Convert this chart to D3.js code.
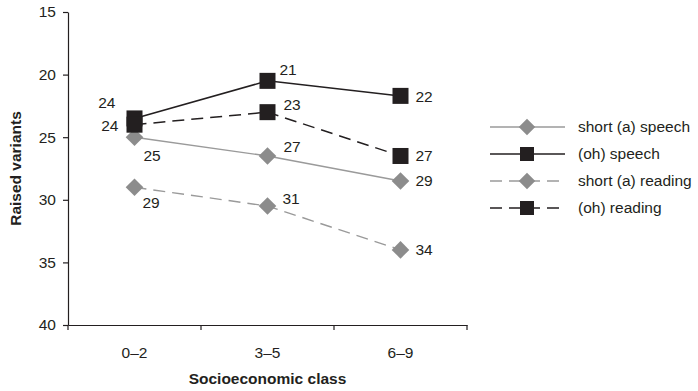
<!DOCTYPE html>
<html>
<head>
<meta charset="utf-8">
<script src="https://cdn.jsdelivr.net/npm/d3@7"></script>
<style>
  html, body { margin: 0; padding: 0; background: #fff; }
  svg { display: block; font-family: "Liberation Sans", Arial, sans-serif; }
</style>
</head>
<body>
<svg id="chart" width="698" height="391"></svg>
<script>
// Socioeconomic class groups along the x axis
const classes = ["0\u20132", "3\u20135", "6\u20139"];

// Mean raised-variant scores per class (lower = more raised)
const shortASpeech  = [25.0, 26.5, 28.5];
const ohSpeech      = [23.5, 20.5, 21.7];
const shortAReading = [29.0, 30.5, 34.0];
const ohReading     = [24.0, 23.0, 26.5];

const yTicks = [15, 20, 25, 30, 35, 40];

const seriesNames = ["short (a) speech", "(oh) speech", "short (a) reading", "(oh) reading"];

const black = "#231f20";
const gray = "#8c8c8c";
const lightGray = "#9a9a9a";
const fontSize = 15.5;

const series = [
  { name: seriesNames[0], values: shortASpeech,  color: lightGray, marker: "diamond", fill: gray,  dash: null,   width: 1.4 },
  { name: seriesNames[1], values: ohSpeech,      color: black,     marker: "square",  fill: black, dash: null,   width: 1.5 },
  { name: seriesNames[2], values: shortAReading, color: lightGray, marker: "diamond", fill: gray,  dash: "12,7", width: 1.4 },
  { name: seriesNames[3], values: ohReading,     color: black,     marker: "square",  fill: black, dash: "12,7", width: 1.5 }
];

// Where each value label sits relative to its point: [dx, dy, anchor]
const labelPlacement = [
  [[9, 24, "start"], [16, -4, "start"], [15, 5, "start"]],
  [[-19, -10, "end"], [12, -6, "start"], [15, 6, "start"]],
  [[8, 21, "start"], [15, -2, "start"], [15, 5, "start"]],
  [[-16, 6, "end"], [16, -2, "start"], [15, 5, "start"]]
];

const svg = d3.select("#chart");
const plotLeft = 68, plotRight = 467, plotTop = 12, plotBottom = 325;

const x = d3.scaleBand().domain(classes).range([plotLeft, plotRight]).padding(0);
const xEdges = d3.scaleLinear().domain([0, classes.length]).range([plotLeft, plotRight]);
const y = d3.scaleLinear().domain([15, 40]).range([plotTop, plotBottom]);

// Y axis
const yAxis = svg.append("g")
  .attr("transform", `translate(${plotLeft},0)`)
  .call(d3.axisLeft(y).tickValues(yTicks).tickSize(5).tickSizeOuter(0).tickPadding(7));
yAxis.select(".domain").attr("stroke", black).attr("stroke-width", 1.2);
yAxis.selectAll(".tick line").attr("stroke", black).attr("stroke-width", 1.2);
yAxis.selectAll(".tick text").attr("font-size", fontSize).attr("fill", black);

// X axis: labels centred in each class band, ticks on the band edges
const xAxis = svg.append("g")
  .attr("transform", `translate(0,${plotBottom})`)
  .call(d3.axisBottom(x).tickSize(0).tickPadding(22));
xAxis.select(".domain").attr("stroke", black).attr("stroke-width", 1.2);
xAxis.selectAll(".tick text").attr("font-size", fontSize).attr("fill", black);
svg.append("g")
  .selectAll("line")
  .data(d3.range(classes.length + 1))
  .join("line")
  .attr("x1", d => xEdges(d)).attr("x2", d => xEdges(d))
  .attr("y1", plotBottom).attr("y2", plotBottom + 5)
  .attr("stroke", black).attr("stroke-width", 1.2);

// Axis titles
svg.append("text")
  .attr("transform", `translate(21,${(plotTop + plotBottom) / 2}) rotate(-90)`)
  .attr("text-anchor", "middle")
  .attr("font-size", fontSize).attr("font-weight", "bold").attr("fill", black)
  .text("Raised variants");
svg.append("text")
  .attr("x", (plotLeft + plotRight) / 2).attr("y", 384)
  .attr("text-anchor", "middle")
  .attr("font-size", fontSize).attr("font-weight", "bold").attr("fill", black)
  .text("Socioeconomic class");

const cx = c => x(c) + x.bandwidth() / 2;

function drawMarker(g, type, fill, px, py, size) {
  if (type === "square") {
    g.append("rect")
      .attr("x", px - size / 2).attr("y", py - size / 2)
      .attr("width", size).attr("height", size)
      .attr("fill", fill);
  } else {
    const h = size * 0.55;
    g.append("path")
      .attr("d", `M${px},${py - h}L${px + h},${py}L${px},${py + h}L${px - h},${py}Z`)
      .attr("fill", fill);
  }
}

const line = d3.line().x((d, i) => cx(classes[i])).y(d => y(d));

series.forEach((s, si) => {
  const g = svg.append("g");
  g.append("path")
    .datum(s.values)
    .attr("d", line)
    .attr("fill", "none")
    .attr("stroke", s.color)
    .attr("stroke-width", s.width)
    .attr("stroke-dasharray", s.dash);
  s.values.forEach((v, i) => {
    drawMarker(g, s.marker, s.fill, cx(classes[i]), y(v), 16);
    const [dx, dy, anchor] = labelPlacement[si][i];
    g.append("text")
      .attr("x", cx(classes[i]) + dx)
      .attr("y", y(v) + dy)
      .attr("text-anchor", anchor)
      .attr("font-size", fontSize).attr("fill", black)
      .text(Math.round(v));
  });
});

// Legend
const legend = svg.append("g").attr("transform", "translate(490,127)");
series.forEach((s, i) => {
  const row = legend.append("g").attr("transform", `translate(0,${i * 27})`);
  row.append("line")
    .attr("x1", 0).attr("x2", 75).attr("y1", 0).attr("y2", 0)
    .attr("stroke", s.color).attr("stroke-width", s.width)
    .attr("stroke-dasharray", s.dash);
  drawMarker(row, s.marker, s.fill, 37, 0, s.marker === "square" ? 14 : 15);
  row.append("text")
    .attr("x", 88).attr("y", 5)
    .attr("font-size", fontSize).attr("fill", black)
    .text(s.name);
});
</script>
</body>
</html>
